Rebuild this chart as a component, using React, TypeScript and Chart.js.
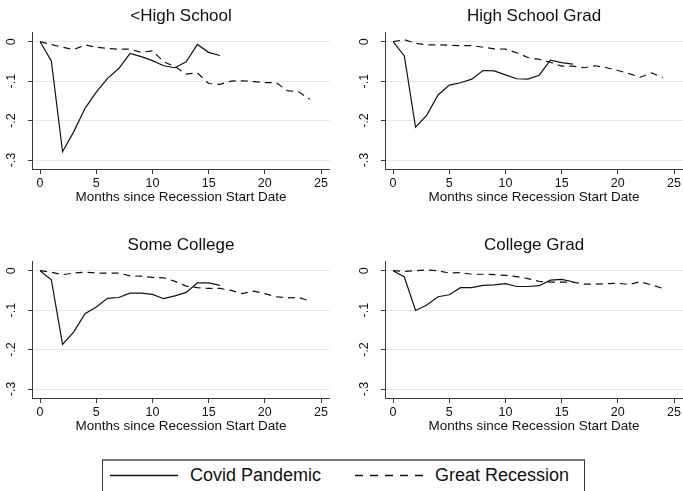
import React, { useEffect, useRef } from "react";
import { Chart, registerables } from "chart.js";

Chart.register(...registerables);

// ---------- data ----------
const covidMonths = [0, 1, 2, 3, 4, 5, 6, 7, 8, 9, 10, 11, 12, 13, 14, 15, 16];
const recessionMonths = [0, 1, 2, 3, 4, 5, 6, 7, 8, 9, 10, 11, 12, 13, 14, 15, 16, 17, 18, 19, 20, 21, 22, 23, 24];

const panelTitles = ["<High School", "High School Grad", "Some College", "College Grad"];

const covidLessHS = [0, -0.049, -0.279, -0.228, -0.169, -0.128, -0.093, -0.068, -0.03, -0.038, -0.048, -0.061, -0.066, -0.051, -0.007, -0.027, -0.035];
const recessionLessHS = [0, -0.007, -0.014, -0.02, -0.008, -0.014, -0.017, -0.019, -0.019, -0.027, -0.023, -0.051, -0.063, -0.082, -0.079, -0.106, -0.108, -0.1, -0.099, -0.101, -0.104, -0.104, -0.124, -0.127, -0.146];

const covidHSGrad = [0, -0.036, -0.217, -0.186, -0.135, -0.11, -0.104, -0.095, -0.073, -0.074, -0.084, -0.094, -0.095, -0.085, -0.047, -0.053, -0.057];
const recessionHSGrad = [0, 0.005, -0.004, -0.008, -0.008, -0.009, -0.01, -0.01, -0.014, -0.018, -0.019, -0.028, -0.04, -0.045, -0.052, -0.062, -0.062, -0.066, -0.061, -0.066, -0.073, -0.081, -0.09, -0.079, -0.091];

const covidSomeCollege = [0, -0.023, -0.187, -0.155, -0.109, -0.092, -0.07, -0.068, -0.057, -0.057, -0.06, -0.071, -0.064, -0.055, -0.031, -0.031, -0.037];
const recessionSomeCollege = [0, -0.004, -0.01, -0.006, -0.004, -0.006, -0.006, -0.006, -0.013, -0.014, -0.017, -0.018, -0.027, -0.039, -0.043, -0.045, -0.045, -0.05, -0.058, -0.052, -0.058, -0.066, -0.069, -0.068, -0.077];

const covidCollegeGrad = [0, -0.016, -0.101, -0.087, -0.066, -0.061, -0.043, -0.043, -0.037, -0.036, -0.033, -0.04, -0.04, -0.038, -0.024, -0.022, -0.028];
const recessionCollegeGrad = [0, -0.002, 0, 0.002, 0, -0.006, -0.005, -0.009, -0.009, -0.01, -0.012, -0.015, -0.02, -0.027, -0.029, -0.029, -0.029, -0.034, -0.034, -0.033, -0.032, -0.035, -0.028, -0.036, -0.045];

const xTicks = [0, 5, 10, 15, 20, 25];
const yTicks = [0, -0.1, -0.2, -0.3];
const yTickLabels = ["0", "-.1", "-.2", "-.3"];
const xAxisTitle = "Months since Recession Start Date";
const legendLabels = ["Covid Pandemic", "Great Recession"];

// ---------- style ----------
const FONT = '"Liberation Sans", Arial, Helvetica, sans-serif';
const INK = "#111111";
const AXIS = "#3a3a3a";
const GRID = "#e8e8e8";
const DASH = [7, 5];

const yLabelPlugin = {
  id: "rotatedYLabels",
  afterDraw(chart: any) {
    const s = chart.scales.y;
    const ctx = chart.ctx;
    ctx.save();
    ctx.font = `12.5px ${FONT}`;
    ctx.fillStyle = INK;
    ctx.textAlign = "center";
    ctx.textBaseline = "middle";
    yTicks.forEach((v, i) => {
      const py = s.getPixelForValue(v);
      ctx.save();
      ctx.translate(s.right - 20, py);
      ctx.rotate(-Math.PI / 2);
      ctx.fillText(yTickLabels[i], 0, 0);
      ctx.restore();
    });
    ctx.restore();
  },
};

type PanelProps = {
  title: string;
  covid: number[];
  recession: number[];
  left: number;
  top: number;
};

function Panel({ title, covid, recession, left, top }: PanelProps) {
  const ref = useRef<HTMLCanvasElement | null>(null);
  useEffect(() => {
    if (!ref.current) return;
    const chart = new Chart(ref.current, {
      type: "line",
      data: {
        datasets: [
          {
            label: legendLabels[0],
            data: covidMonths.map((m, i) => ({ x: m, y: covid[i] })),
            borderColor: INK,
            borderWidth: 1.2,
            pointRadius: 0,
            fill: false,
            tension: 0,
          },
          {
            label: legendLabels[1],
            data: recessionMonths.map((m, i) => ({ x: m, y: recession[i] })),
            borderColor: INK,
            borderWidth: 1.2,
            borderDash: DASH,
            pointRadius: 0,
            fill: false,
            tension: 0,
          },
        ],
      },
      options: {
        animation: false,
        responsive: false,
        maintainAspectRatio: false,
        layout: { padding: 0, autoPadding: false } as any,
        plugins: {
          legend: { display: false },
          tooltip: { enabled: false },
          title: {
            display: true,
            text: title,
            fullSize: false,
            color: INK,
            font: { family: FONT, size: 17, weight: "normal" as any, lineHeight: 1.2 },
            padding: { top: 6, bottom: 5.6 },
          } as any,
        },
        scales: {
          x: {
            type: "linear",
            min: -0.72,
            max: 25.8,
            afterBuildTicks: (s: any) => {
              s.ticks = xTicks.map((v) => ({ value: v }));
            },
            afterFit: (s: any) => {
              s.height = 60;
            },
            grid: {
              drawOnChartArea: false,
              drawTicks: true,
              tickLength: 5,
              tickColor: AXIS,
              tickWidth: 1,
            },
            border: { color: AXIS, width: 1 },
            ticks: {
              color: INK,
              font: { family: FONT, size: 12.5 },
              padding: 2,
              maxRotation: 0,
              minRotation: 0,
              autoSkip: false,
              callback: (v: any) => String(v),
            },
            title: {
              display: true,
              text: xAxisTitle,
              color: INK,
              font: { family: FONT, size: 13.5, lineHeight: 1.2 },
              padding: { top: 0, bottom: 24 },
            },
          },
          y: {
            type: "linear",
            min: -0.3228,
            max: 0.0246,
            afterBuildTicks: (s: any) => {
              s.ticks = yTicks.map((v) => ({ value: v }));
            },
            afterFit: (s: any) => {
              s.width = 32;
            },
            grid: {
              color: GRID,
              lineWidth: 1,
              drawTicks: true,
              tickLength: 4,
              tickColor: AXIS,
              tickWidth: 1,
            },
            border: { color: AXIS, width: 1 },
            ticks: { display: false },
          },
        },
      } as any,
      plugins: [yLabelPlugin],
    });
    return () => chart.destroy();
  }, [title, covid, recession]);

  return (
    <canvas
      ref={ref}
      width={330}
      height={229}
      style={{ position: "absolute", left, top, width: 330, height: 229 }}
    />
  );
}

function LegendBox() {
  const text: React.CSSProperties = {
    position: "absolute",
    top: 0,
    height: 32,
    lineHeight: "32px",
    fontFamily: FONT,
    fontSize: 18,
    color: INK,
    whiteSpace: "nowrap",
  };
  return (
    <div
      style={{
        position: "absolute",
        left: 102,
        top: 459,
        width: 483,
        height: 32,
        boxSizing: "border-box",
        borderLeft: `1px solid ${AXIS}`,
        borderRight: `1px solid ${AXIS}`,
        borderTop: "2px solid #777777",
        background: "#fff",
      }}
    >
      <svg
        width={483}
        height={32}
        style={{ position: "absolute", left: -1, top: -2 }}
      >
        <line x1={8} x2={76} y1={16.5} y2={16.5} stroke={INK} strokeWidth={1.3} />
        <line
          x1={253}
          x2={321}
          y1={16.5}
          y2={16.5}
          stroke={INK}
          strokeWidth={1.3}
          strokeDasharray="8 7"
        />
      </svg>
      <span style={{ ...text, left: 87, top: -2 }}>{legendLabels[0]}</span>
      <span style={{ ...text, left: 332, top: -2 }}>{legendLabels[1]}</span>
    </div>
  );
}

export default function App() {
  return (
    <div
      style={{
        position: "absolute",
        left: 0,
        top: 0,
        width: 683,
        height: 491,
        background: "#ffffff",
        overflow: "hidden",
      }}
    >
      <Panel title={panelTitles[0]} covid={covidLessHS} recession={recessionLessHS} left={0} top={0} />
      <Panel title={panelTitles[1]} covid={covidHSGrad} recession={recessionHSGrad} left={353} top={0} />
      <Panel title={panelTitles[2]} covid={covidSomeCollege} recession={recessionSomeCollege} left={0} top={229} />
      <Panel title={panelTitles[3]} covid={covidCollegeGrad} recession={recessionCollegeGrad} left={353} top={229} />
      <LegendBox />
    </div>
  );
}
